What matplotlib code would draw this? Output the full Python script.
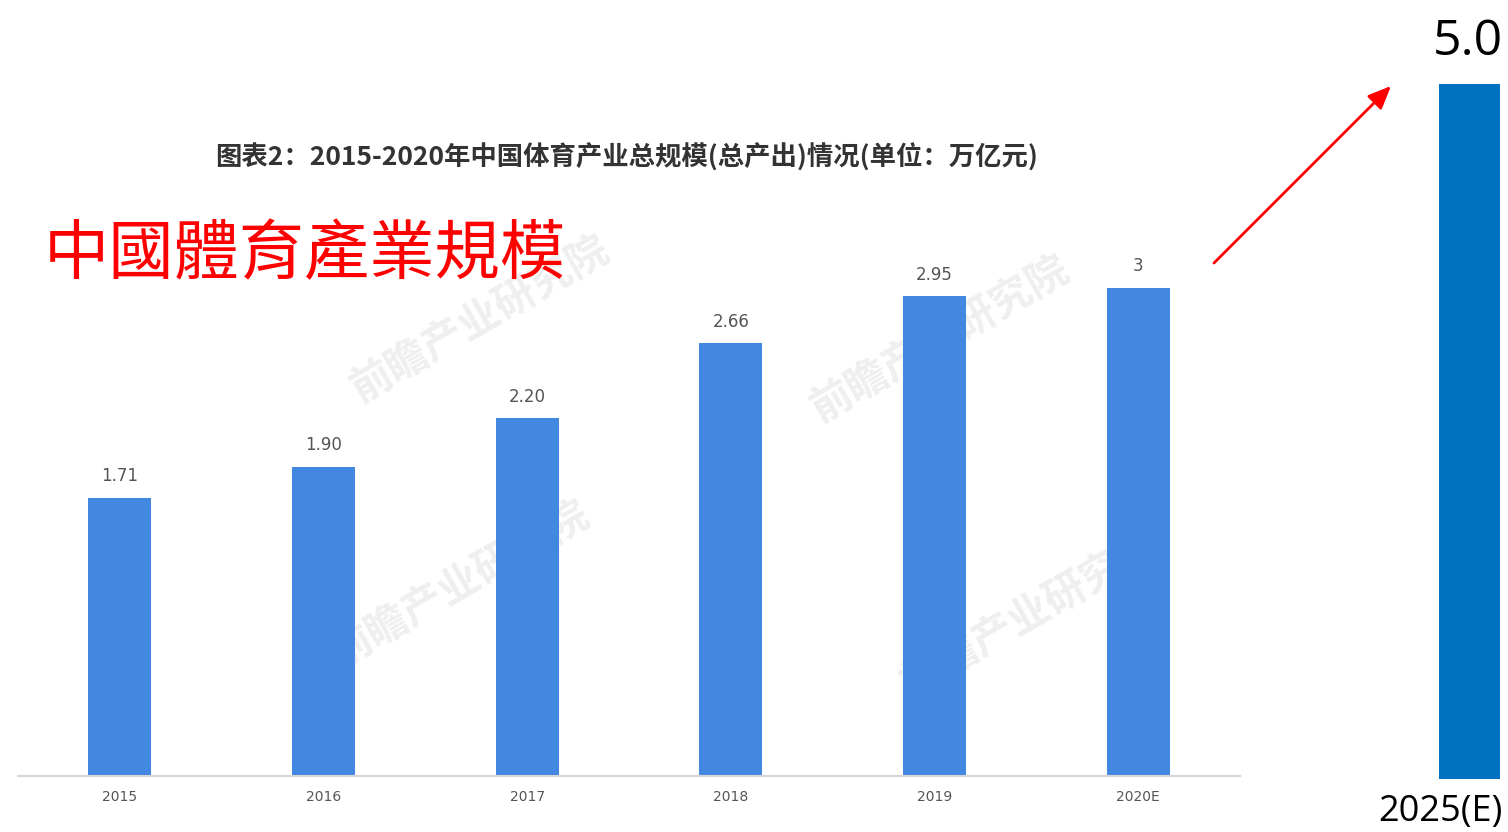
import matplotlib
matplotlib.use("Agg")
import matplotlib.pyplot as plt
from matplotlib.patches import FancyArrowPatch

plt.rcParams['font.family'] = ['Noto Sans CJK SC', 'DejaVu Sans']

# China sports industry total output (trillion yuan)
years = ["2015", "2016", "2017", "2018", "2019", "2020E"]
values = [1.71, 1.90, 2.20, 2.66, 2.95, 3.0]
value_labels = ["1.71", "1.90", "2.20", "2.66", "2.95", "3"]

forecast_year = ["2025(E)"]
forecast_value = [5.0]
forecast_label = ["5.0"]

title_text = "图表2：2015-2020年中国体育产业总规模(总产出)情况(单位：万亿元)"
overlay_text = "中國體育產業規模"
watermark = "前瞻产业研究院"

W, H = 1508, 832
fig = plt.figure(figsize=(W / 100, H / 100), dpi=100)
fig.patch.set_facecolor("white")


def px_axes(x0, y0, x1, y1):
    """Axes placed by pixel box (top-left origin)."""
    return fig.add_axes([x0 / W, 1 - y1 / H, (x1 - x0) / W, (y1 - y0) / H])


# faint watermarks behind the main chart
for (wx, wy) in [(480, 320), (940, 340), (460, 585), (1030, 615)]:
    fig.text(wx / W, 1 - wy / H, watermark, fontsize=30, color="#efefef",
             rotation=30, ha="center", va="center", weight="bold", zorder=-1)

# main bar chart
ax = px_axes(18, 100, 1240, 776)
ax.patch.set_alpha(0)
x = list(range(len(years)))
bars = ax.bar(x, values, width=0.31, color="#4287E0", zorder=2)
for rect, lab in zip(bars, value_labels):
    ax.annotate(lab, (rect.get_x() + rect.get_width() / 2, rect.get_height()),
                xytext=(0, 9), textcoords="offset points", ha="center", va="bottom",
                fontsize=12, color="#555555", family="DejaVu Sans")
ax.set_xlim(-0.5, 5.5)
ax.set_ylim(0, 4.155)
ax.set_xticks(x)
ax.set_xticklabels(years, fontsize=10, color="#555555", family="DejaVu Sans")
ax.tick_params(axis="x", length=0, pad=10)
ax.set_yticks([])
for side in ["top", "right", "left"]:
    ax.spines[side].set_visible(False)
ax.spines["bottom"].set_color("#d5d5d5")
ax.spines["bottom"].set_linewidth(1.5)

# chart title
fig.text(627 / W, 1 - 158 / H, title_text, fontsize=19, weight="bold",
         color="#333333", ha="center", va="center")

# red overlay caption
fig.text(44 / W, 1 - 256 / H, overlay_text, fontsize=47, color="#ff0000",
         family=["Noto Sans CJK TC", "DejaVu Sans"], ha="left", va="center")

# 2025 forecast bar
ax2 = px_axes(1439, 84, 1500, 779)
ax2.patch.set_alpha(0)
b2 = ax2.bar([0], forecast_value, width=1.0, color="#0070C0")
ax2.set_xlim(-0.5, 0.5)
ax2.set_ylim(0, 5.0)
ax2.annotate(forecast_label[0], (0.5, forecast_value[0]), xytext=(2, 21),
             textcoords="offset points", ha="right", va="baseline",
             fontsize=36, color="black", family="Open Sans", annotation_clip=False)
ax2.set_xticks([])
for side in ["top", "right", "left", "bottom"]:
    ax2.spines[side].set_visible(False)
ax2.set_yticks([])
fig.text(1503 / W, 1 - 812 / H, forecast_year[0], fontsize=26, color="black",
         family="Open Sans", ha="right", va="center")

# red growth arrow
fig.add_artist(FancyArrowPatch(
    (1212 / W, 1 - 265 / H), (1393 / W, 1 - 84 / H), transform=fig.transFigure,
    arrowstyle="-|>,head_length=14,head_width=6", color="#ff0000", lw=2,
    mutation_scale=1))

fig.savefig("out.png", dpi=100)
